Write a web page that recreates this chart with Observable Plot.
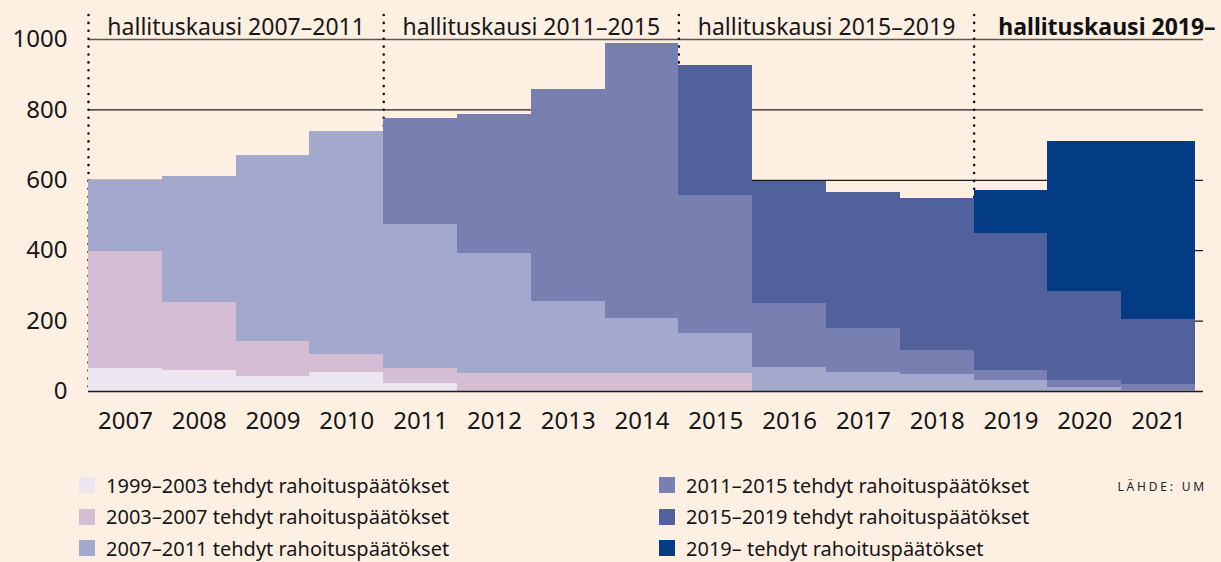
<!DOCTYPE html>
<html>
<head>
<meta charset="utf-8">
<script src="https://cdn.jsdelivr.net/npm/d3@7"></script>
<script src="https://cdn.jsdelivr.net/npm/@observablehq/plot@0.6"></script>
<style>
  html, body { margin: 0; padding: 0; background: #feefe3; }
  body { width: 1221px; height: 562px; position: relative; overflow: hidden;
         font-family: "Noto Sans", sans-serif; color: #161616; }
  #chart { position: absolute; left: 0; top: 0; }
  .item { position: absolute; height: 31.5px; display: flex; align-items: center;
          font-size: 20px; white-space: nowrap; }
  .sw { width: 16px; height: 16px; margin-right: 11px; flex: none; }
  #source { position: absolute; right: 14px; top: 478px; font-size: 12px;
            letter-spacing: 2.8px; color: #222; }
</style>
</head>
<body>
<div id="chart"></div>
<div id="legend"></div>
<div id="source">LÄHDE: UM</div>
<script>
// ---- data ----
const years = [2007, 2008, 2009, 2010, 2011, 2012, 2013, 2014, 2015, 2016, 2017, 2018, 2019, 2020, 2021];

const seriesNames = [
  "1999–2003 tehdyt rahoituspäätökset",
  "2003–2007 tehdyt rahoituspäätökset",
  "2007–2011 tehdyt rahoituspäätökset",
  "2011–2015 tehdyt rahoituspäätökset",
  "2015–2019 tehdyt rahoituspäätökset",
  "2019– tehdyt rahoituspäätökset"
];
const seriesColors = ["#ece6f0", "#d5bed3", "#a3a9cc", "#7780b0", "#51619c", "#033c84"];

const dec1999 = [65, 60, 43, 54, 23, 0, 0, 0, 0, 0, 0, 0, 0, 0, 0];
const dec2003 = [333, 193, 99, 51, 42, 51, 51, 51, 51, 0, 0, 0, 0, 0, 0];
const dec2007 = [201, 359, 529, 634, 409, 341, 205, 156, 114, 68, 54, 48, 31, 11, 3];
const dec2011 = [0, 0, 0, 0, 302, 395, 602, 782, 393, 182, 125, 68, 29, 20, 17];
const dec2015 = [0, 0, 0, 0, 0, 0, 0, 0, 368, 347, 386, 432, 389, 254, 185];
const dec2019 = [0, 0, 0, 0, 0, 0, 0, 0, 0, 0, 0, 0, 122, 425, 505];

const yTicks = [0, 200, 400, 600, 800, 1000];

const periodLabels = ["hallituskausi 2007–2011", "hallituskausi 2011–2015", "hallituskausi 2015–2019", "hallituskausi 2019–"];
const periodStarts = [2007, 2011, 2015, 2019];
const periodEnds = [2011, 2015, 2019, null];

// ---- build table ----
const seriesValues = [dec1999, dec2003, dec2007, dec2011, dec2015, dec2019];
const table = [];
years.forEach((yr, i) => {
  seriesValues.forEach((vals, s) => {
    if (vals[i] > 0) table.push({year: yr, series: seriesNames[s], value: vals[i]});
  });
});
const labelsTable = periodLabels.map((t, i) => ({
  text: t,
  x: periodEnds[i] != null ? (periodStarts[i] + periodEnds[i]) / 2 - 0.5 : periodStarts[i] + 1.3,
  bold: periodEnds[i] == null
}));

const W = 1221, H = 445;
const chart = Plot.plot({
  width: W,
  height: H,
  marginLeft: 88,
  marginRight: 18,
  marginTop: 39,
  marginBottom: 54,
  style: {background: "transparent", fontFamily: "Noto Sans, sans-serif", fontSize: "23px", color: "#161616"},
  x: {type: "linear", domain: [2006.5, 2021.608]},
  y: {domain: [0, 1000]},
  color: {domain: seriesNames, range: seriesColors},
  marks: [
    Plot.ruleY(yTicks.filter(d => d > 0 && d < 1000), {stroke: "#1c1c1c", strokeWidth: 1.2}),
    Plot.ruleY([1000], {stroke: "#5e554e", strokeWidth: 1.6}),
    Plot.ruleX(periodStarts, {x: d => d - 0.5, stroke: "#111", strokeWidth: 2.6,
      strokeDasharray: "0 7.9", strokeLinecap: "round", insetTop: -24}),
    Plot.rectY(table, {x1: d => d.year - 0.5, x2: d => d.year + 0.5, y: "value", fill: "series",
      inset: 0, shapeRendering: "crispEdges"}),
    Plot.ruleY([0], {stroke: "#1c1c1c", strokeWidth: 1.6}),
    Plot.axisY({ticks: yTicks, tickFormat: d => String(d), tickSize: 0, tickPadding: 21, fontSize: 24, label: null}),
    Plot.axisX({ticks: years, tickFormat: d => String(d), tickSize: 0, tickPadding: 20, fontSize: 24, label: null}),
    Plot.text(labelsTable.filter(d => !d.bold), {x: "x", text: "text", frameAnchor: "top", dy: -21, fontSize: 23, fill: "#161616"}),
    Plot.text(labelsTable.filter(d => d.bold), {x: "x", text: "text", frameAnchor: "top", dy: -21, fontSize: 23, fontWeight: "bold", fill: "#111"})
  ]
});
document.getElementById("chart").appendChild(chart);

// ---- legend ----
const legend = d3.select("#legend");
seriesNames.forEach((name, i) => {
  const col = Math.floor(i / 3), row = i % 3;
  const item = legend.append("div").attr("class", "item")
    .style("left", (79 + col * 580) + "px")
    .style("top", (469.5 + row * 31.5) + "px");
  item.append("div").attr("class", "sw").style("background", seriesColors[i]);
  item.append("span").text(name);
});
</script>
</body>
</html>
